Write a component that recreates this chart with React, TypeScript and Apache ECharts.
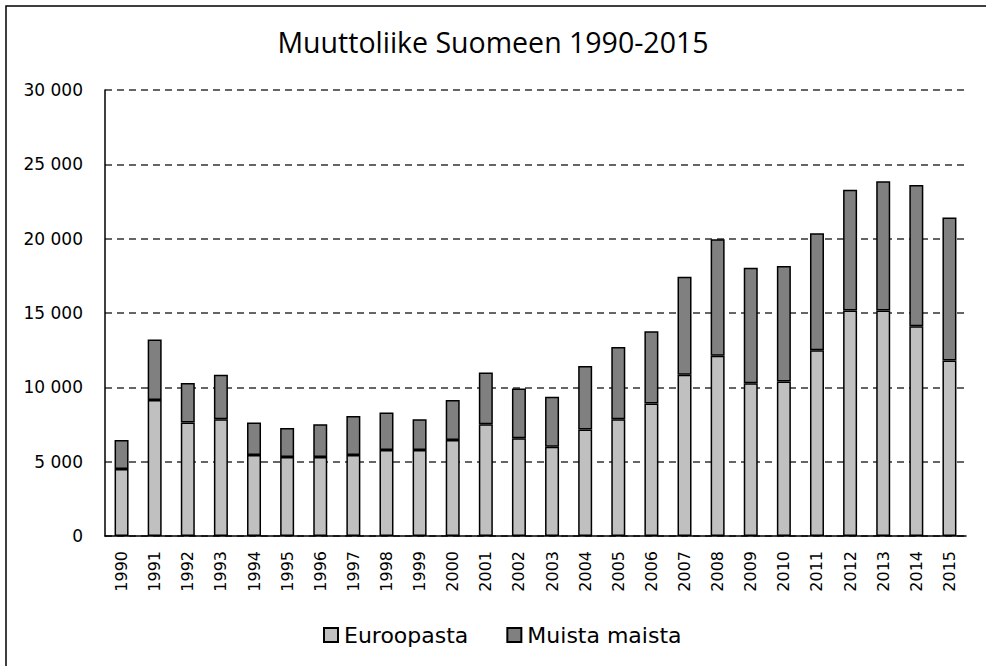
import React, { useEffect, useRef } from "react";
import * as echarts from "echarts";

const years = [
  "1990", "1991", "1992", "1993", "1994", "1995", "1996", "1997", "1998", "1999",
  "2000", "2001", "2002", "2003", "2004", "2005", "2006", "2007", "2008", "2009",
  "2010", "2011", "2012", "2013", "2014", "2015",
];
const europe = [
  4500, 9140, 7630, 7850, 5450, 5310, 5310, 5450, 5780, 5780,
  6460, 7520, 6570, 6010, 7160, 7850, 8910, 10850, 12130, 10280,
  10400, 12490, 15170, 15170, 14110, 11810,
];
const other = [
  1960, 4070, 2660, 2990, 2180, 1960, 2210, 2630, 2520, 2070,
  2680, 3470, 3350, 3350, 4270, 4860, 4860, 6590, 7830, 7770,
  7760, 7880, 8120, 8690, 9500, 9610,
];
const seriesNames = ["Euroopasta", "Muista maista"];
const titleText = "Muuttoliike Suomeen 1990-2015";

export default function App() {
  const ref = useRef<HTMLDivElement>(null);
  useEffect(() => {
    document.body.style.margin = "0";
    const chart = echarts.init(ref.current!, null, { renderer: "svg" });
    const fmt = (v: number) => {
      if (v === 0) return "0";
      const s = String(v);
      return s.slice(0, s.length - 3) + " " + s.slice(s.length - 3);
    };
    chart.setOption({
      animation: false,
      backgroundColor: "#fff",
      title: {
        text: titleText,
        left: "center",
        top: 22,
        textStyle: {
          fontFamily: "Open Sans",
          fontSize: 28.5,
          fontWeight: "normal",
          color: "#000",
        },
      },
      grid: { left: 105, right: 20, top: 90, bottom: 130, containLabel: false },
      legend: {
        bottom: 15,
        left: 318,
        icon: "rect",
        itemWidth: 14,
        itemHeight: 14,
        itemGap: 38,
        textStyle: { fontFamily: "DejaVu Sans", fontSize: 22, color: "#000", padding: [0, 0, 0, 1] },
        data: seriesNames,
      },
      xAxis: {
        type: "category",
        data: years,
        axisLine: { lineStyle: { color: "#000", width: 1.5 } },
        axisTick: { show: false },
        axisLabel: {
          rotate: 90,
          margin: 15,
          fontFamily: "DejaVu Sans",
          fontSize: 16,
          color: "#000",
        },
      },
      yAxis: {
        type: "value",
        min: 0,
        max: 30000,
        interval: 5000,
        axisLine: { show: true, lineStyle: { color: "#000", width: 1.5 } },
        axisTick: { show: false },
        axisLabel: {
          formatter: fmt,
          margin: 22,
          fontFamily: "DejaVu Sans",
          fontSize: 17,
          color: "#000",
        },
        splitLine: {
          lineStyle: { color: "#333", width: 1.5, type: [7, 5] },
        },
      },
      series: [
        {
          name: seriesNames[0],
          type: "bar",
          stack: "total",
          barWidth: 14,
          data: europe,
          itemStyle: { color: "#c0c0c0", borderColor: "#000", borderWidth: 1.5 },
        },
        {
          name: seriesNames[1],
          type: "bar",
          stack: "total",
          barWidth: 14,
          data: other,
          itemStyle: { color: "#808080", borderColor: "#000", borderWidth: 1.5 },
        },
      ],
      graphic: [
        {
          type: "rect",
          shape: { x: 6, y: 6, width: 1200, height: 1000 },
          style: { fill: "none", stroke: "#000", lineWidth: 1.5 },
          silent: true,
        },
      ],
    });
    return () => chart.dispose();
  }, []);
  return <div ref={ref} style={{ width: 986, height: 666 }} />;
}
